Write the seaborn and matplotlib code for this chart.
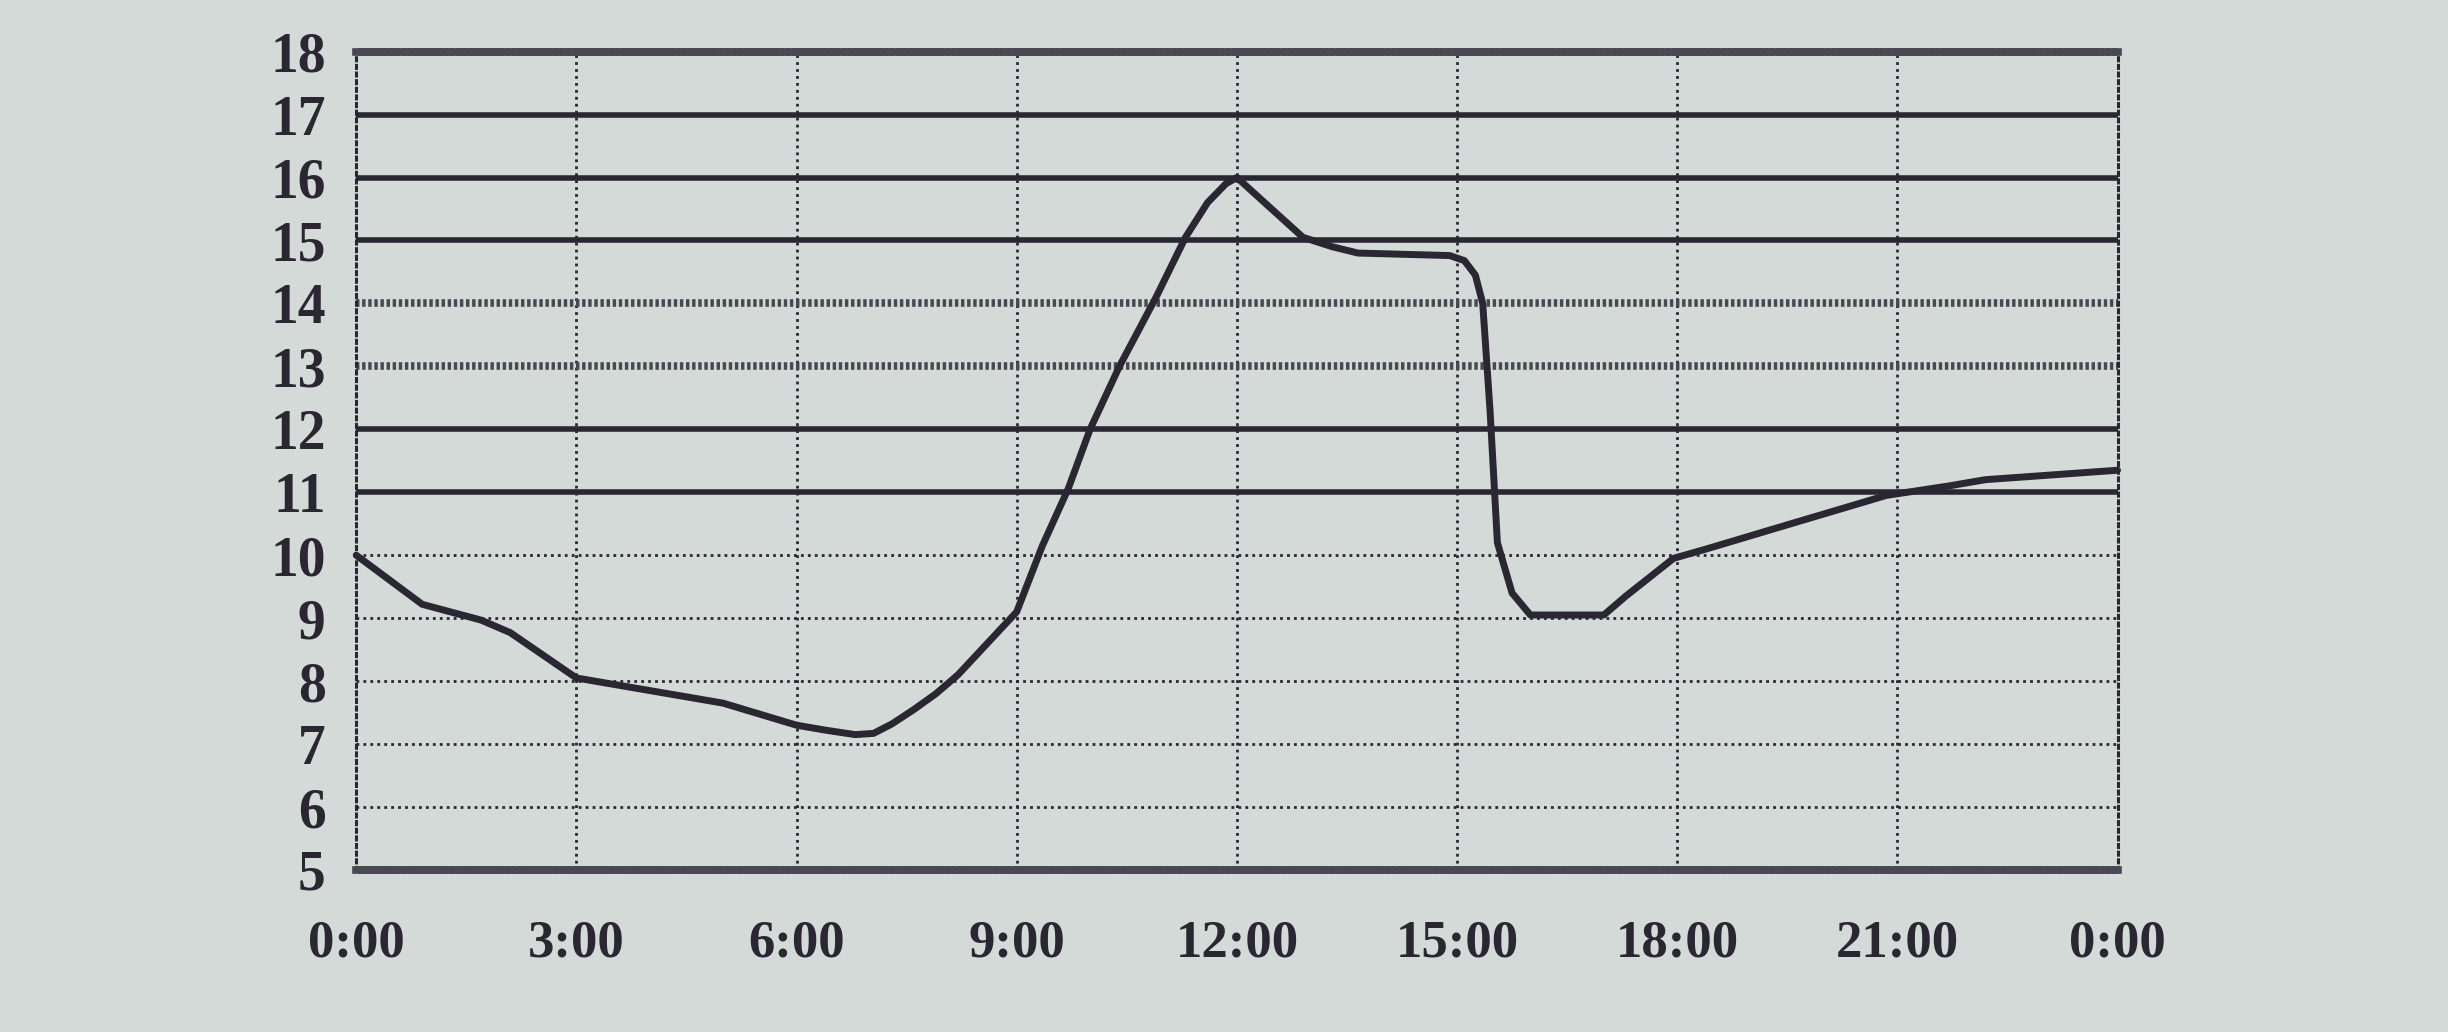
import matplotlib
matplotlib.use("Agg")
import matplotlib.pyplot as plt
import seaborn as sns
import pandas as pd

# ---- data ----
hours = [0.0, 0.9, 1.7, 2.1, 3.0, 4.0, 5.0, 6.0, 6.4, 6.8, 7.05, 7.3, 7.6, 7.9, 8.2,
         8.6, 9.0, 9.35, 9.7, 10.0, 10.4, 10.9, 11.3, 11.6, 11.85, 12.0, 12.9, 13.3,
         13.65, 14.9, 15.1, 15.25, 15.35, 15.45, 15.55, 15.75, 16.0, 17.0, 17.3,
         17.95, 18.4, 19.55, 20.85, 21.7, 22.2, 24.0]
temps = [10.0, 9.22, 8.97, 8.77, 8.05, 7.85, 7.65, 7.3, 7.22, 7.15, 7.17, 7.32, 7.55,
         7.8, 8.1, 8.6, 9.1, 10.15, 11.05, 12.0, 13.0, 14.1, 15.05, 15.6, 15.9, 16.0,
         15.05, 14.9, 14.8, 14.76, 14.68, 14.45, 14.0, 12.3, 10.2, 9.4, 9.05, 9.05,
         9.35, 9.95, 10.1, 10.5, 10.95, 11.1, 11.2, 11.35]
x_ticks = [0, 3, 6, 9, 12, 15, 18, 21, 24]
x_labels = ["0:00", "3:00", "6:00", "9:00", "12:00", "15:00", "18:00", "21:00", "0:00"]
y_ticks = list(range(5, 19))
solid_levels = [11, 12, 15, 16, 17]
dither_levels = [13, 14]
dotted_levels = [6, 7, 8, 9, 10]

BG = "#d3dad7"
INK = "#2a2733"
DITHER = "#4a4853"

sns.set_theme(style="white")
plt.rcParams["font.family"] = ["Liberation Serif", "DejaVu Serif"]

fig = plt.figure(figsize=(24.48, 10.32), dpi=100, facecolor=BG)
ax = fig.add_axes([0.1455, 0.157, 0.7195, 0.793])
ax.set_facecolor(BG)

df = pd.DataFrame({"hour": hours, "temp": temps})

# grid lines
for xv in x_ticks[1:-1]:
    ax.axvline(xv, color=INK, lw=2.0, linestyle=(0, (1.0, 1.5)), zorder=1)
for yv in dotted_levels:
    ax.axhline(yv, color=INK, lw=2.0, linestyle=(0, (1.0, 1.5)), zorder=1)
for yv in dither_levels:
    ax.axhline(yv, color=DITHER, lw=5.5, linestyle=(0, (0.45, 0.35)), zorder=1)
for yv in solid_levels:
    ax.axhline(yv, color=INK, lw=4.0, zorder=2)

sns.lineplot(data=df, x="hour", y="temp", ax=ax, color=INK, lw=5.0,
             zorder=3, clip_on=False)

ax.set_xlim(0, 24)
ax.set_ylim(5, 18)
ax.set_xticks(x_ticks)
ax.set_xticklabels(x_labels)
ax.set_yticks(y_ticks)
ax.set_yticklabels([str(v) for v in y_ticks])
ax.set_xlabel("")
ax.set_ylabel("")
ax.tick_params(axis="both", length=0, colors=INK)
ax.tick_params(axis="y", pad=22, labelsize=40)
ax.tick_params(axis="x", pad=36, labelsize=38)
for lab in ax.get_xticklabels() + ax.get_yticklabels():
    lab.set_fontweight("bold")
    lab.set_color(INK)

for side in ["top", "bottom"]:
    ax.spines[side].set_visible(True)
    ax.spines[side].set_color(DITHER)
    ax.spines[side].set_linewidth(5.5)
    ax.spines[side].set_linestyle((0, (0.45, 0.35)))
for side in ["left", "right"]:
    ax.spines[side].set_visible(True)
    ax.spines[side].set_color(INK)
    ax.spines[side].set_linewidth(2.2)
    ax.spines[side].set_linestyle((0, (1.0, 1.5)))

ax.grid(False)
fig.savefig("out.png", dpi=100, facecolor=BG)
